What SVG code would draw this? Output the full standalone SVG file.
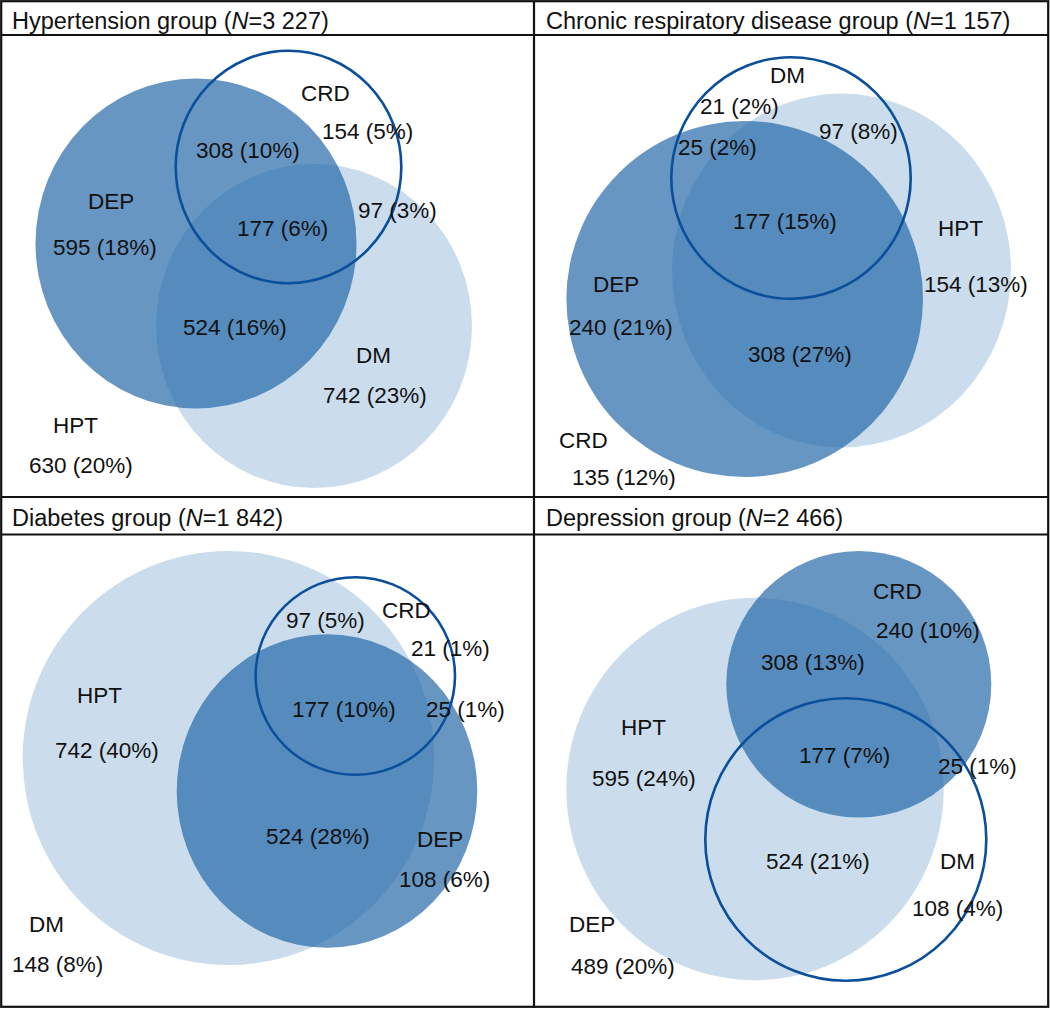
<svg xmlns="http://www.w3.org/2000/svg" width="1050" height="1009" viewBox="0 0 1050 1009">
<style>
text{font-family:"Liberation Sans",Arial,sans-serif;font-size:22.5px;fill:#111}
.t{font-size:23.5px}
.light{fill:#cbdded}
.dark{fill:#1c62a6;fill-opacity:0.67}
.ring{fill:none;stroke:#0b4f9b;stroke-width:2.6}
.grid{fill:none;stroke:#111;stroke-width:2.2}
</style>
<rect x="0" y="0" width="1050" height="1009" fill="#fff"/>
<g id="frame">
<rect class="grid" x="1.2" y="1.2" width="1047" height="1005.6"/>
<line class="grid" x1="1" y1="35" x2="1049" y2="35"/>
<line class="grid" x1="1" y1="497" x2="1049" y2="497"/>
<line class="grid" x1="1" y1="534.5" x2="1049" y2="534.5"/>
<line class="grid" x1="534" y1="1" x2="534" y2="1008"/>
</g>
<g id="titles">
<text class="t" x="12" y="29">Hypertension group (<tspan font-style="italic">N</tspan>=3 227)</text>
<text class="t" x="546" y="29">Chronic respiratory disease group (<tspan font-style="italic">N</tspan>=1 157)</text>
<text class="t" x="12" y="526">Diabetes group (<tspan font-style="italic">N</tspan>=1 842)</text>
<text class="t" x="546" y="526">Depression group (<tspan font-style="italic">N</tspan>=2 466)</text>
</g>
<g id="panel-hypertension">
<ellipse class="light" cx="314" cy="326" rx="158" ry="162"/>
<ellipse class="dark" cx="196" cy="243.5" rx="160.5" ry="165"/>
<ellipse class="ring" cx="288.5" cy="167" rx="112.8" ry="116.2"/>
<text x="301" y="101">CRD</text>
<text x="322" y="139">154 (5%)</text>
<text x="196" y="158">308 (10%)</text>
<text x="88" y="209">DEP</text>
<text x="358" y="218">97 (3%)</text>
<text x="237" y="236">177 (6%)</text>
<text x="53" y="255">595 (18%)</text>
<text x="183" y="335">524 (16%)</text>
<text x="356" y="363">DM</text>
<text x="323" y="403">742 (23%)</text>
<text x="53" y="433">HPT</text>
<text x="29" y="473">630 (20%)</text>
</g>
<g id="panel-crd">
<ellipse class="light" cx="841.5" cy="270.5" rx="169.5" ry="177"/>
<ellipse class="dark" cx="744.7" cy="299" rx="178.3" ry="178"/>
<ellipse class="ring" cx="791" cy="178" rx="119.7" ry="120.8"/>
<text x="770" y="83">DM</text>
<text x="700" y="114">21 (2%)</text>
<text x="819" y="139">97 (8%)</text>
<text x="678" y="155">25 (2%)</text>
<text x="733" y="229">177 (15%)</text>
<text x="938" y="236">HPT</text>
<text x="593" y="292">DEP</text>
<text x="924" y="292">154 (13%)</text>
<text x="569" y="335">240 (21%)</text>
<text x="748" y="362">308 (27%)</text>
<text x="559" y="448">CRD</text>
<text x="572" y="485">135 (12%)</text>
</g>
<g id="panel-diabetes">
<ellipse class="light" cx="228.5" cy="758" rx="205.8" ry="207"/>
<ellipse class="dark" cx="327" cy="791" rx="150.3" ry="156.8"/>
<ellipse class="ring" cx="355.3" cy="676" rx="99.7" ry="98.8"/>
<text x="382" y="618">CRD</text>
<text x="286" y="628">97 (5%)</text>
<text x="411" y="656">21 (1%)</text>
<text x="77" y="703">HPT</text>
<text x="292" y="717">177 (10%)</text>
<text x="426" y="717">25 (1%)</text>
<text x="55" y="758">742 (40%)</text>
<text x="266" y="844">524 (28%)</text>
<text x="417" y="847">DEP</text>
<text x="399" y="887">108 (6%)</text>
<text x="29" y="932">DM</text>
<text x="12" y="972">148 (8%)</text>
</g>
<g id="panel-depression">
<ellipse class="light" cx="755" cy="789" rx="188.7" ry="191.2"/>
<ellipse class="dark" cx="858.8" cy="684.3" rx="132.5" ry="133.3"/>
<ellipse class="ring" cx="845.8" cy="839.5" rx="140.5" ry="141.2"/>
<text x="873" y="599">CRD</text>
<text x="876" y="638">240 (10%)</text>
<text x="761" y="670">308 (13%)</text>
<text x="621" y="735">HPT</text>
<text x="799" y="763">177 (7%)</text>
<text x="938" y="774">25 (1%)</text>
<text x="592" y="786">595 (24%)</text>
<text x="766" y="869">524 (21%)</text>
<text x="940" y="869">DM</text>
<text x="912" y="916">108 (4%)</text>
<text x="569" y="932">DEP</text>
<text x="571" y="974">489 (20%)</text>
</g>
<g id="connectors"/>
</svg>
